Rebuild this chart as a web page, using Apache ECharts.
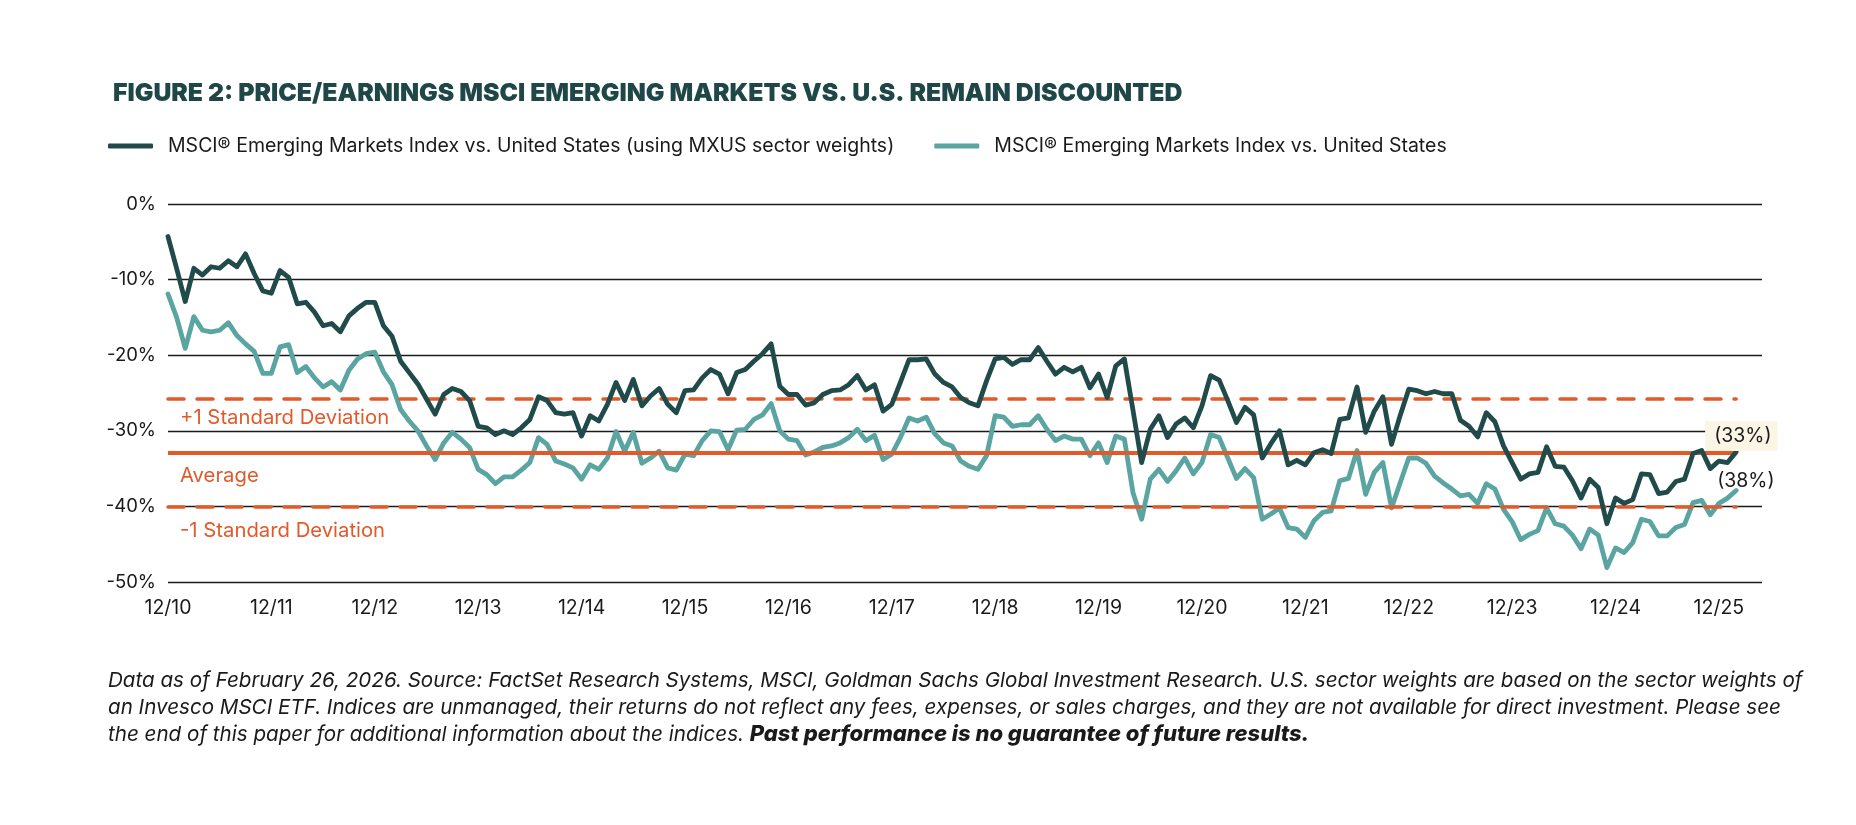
<!DOCTYPE html>
<html lang="en">
<head>
<meta charset="UTF-8">
<title>Figure 2</title>
<script src="https://cdn.jsdelivr.net/npm/echarts@6/dist/echarts.min.js"></script>
<style>
  html, body { margin: 0; padding: 0; background: #fff; }
  #main { width: 1856px; height: 825px; }
</style>
</head>
<body>
<div id="main"></div>
<script>
// monthly P/E discount, Dec 2010 .. Feb 2026 (one row = one year from Dec)
var emMxusWeights = [
  -4.3, -8.5, -12.9, -8.5, -9.4, -8.3, -8.5, -7.5, -8.3, -6.6, -9.2, -11.5,
  -11.8, -8.8, -9.7, -13.2, -13.0, -14.3, -16.1, -15.8, -16.9, -14.8, -13.8, -13.0,
  -13.0, -16.1, -17.5, -20.8, -22.3, -23.8, -25.8, -27.8, -25.2, -24.4, -24.8, -26.0,
  -29.4, -29.6, -30.5, -30.0, -30.5, -29.6, -28.5, -25.5, -26.0, -27.6, -27.8, -27.6,
  -30.7, -28.0, -28.7, -26.5, -23.6, -26.0, -23.2, -26.7, -25.4, -24.4, -26.5, -27.6,
  -24.7, -24.6, -23.0, -21.9, -22.5, -25.1, -22.3, -21.9, -20.8, -19.8, -18.5, -24.1,
  -25.2, -25.2, -26.6, -26.3, -25.2, -24.7, -24.6, -23.9, -22.7, -24.6, -23.9, -27.4,
  -26.5, -23.6, -20.6, -20.6, -20.5, -22.5, -23.6, -24.2, -25.6, -26.3, -26.7, -23.4,
  -20.5, -20.3, -21.2, -20.6, -20.6, -19.0, -20.8, -22.5, -21.6, -22.2, -21.6, -24.3,
  -22.5, -25.6, -21.4, -20.5, -27.3, -34.2, -29.8, -28.0, -30.9, -29.1, -28.3, -29.6,
  -26.7, -22.7, -23.3, -26.0, -28.9, -26.9, -27.9, -33.6, -31.7, -30.0, -34.5, -33.9,
  -34.5, -32.9, -32.5, -33.0, -28.5, -28.3, -24.2, -30.2, -27.4, -25.5, -31.8, -28.0,
  -24.5, -24.7, -25.1, -24.8, -25.1, -25.1, -28.6, -29.4, -30.8, -27.6, -28.8, -32.0,
  -34.2, -36.4, -35.7, -35.5, -32.1, -34.7, -34.8, -36.6, -38.9, -36.4, -37.5, -42.3,
  -38.9, -39.6, -39.1, -35.7, -35.8, -38.3, -38.1, -36.7, -36.4, -33.0, -32.6, -35.0,
  -34.0, -34.2, -32.8
];

var emVsUs = [
  -11.9, -15.0, -19.1, -14.9, -16.7, -16.9, -16.7, -15.7, -17.4, -18.5, -19.5, -22.4,
  -22.4, -18.9, -18.6, -22.3, -21.5, -23.0, -24.2, -23.5, -24.6, -22.0, -20.5, -19.8,
  -19.6, -22.2, -23.9, -27.2, -28.7, -30.0, -32.0, -33.8, -31.6, -30.2, -31.1, -32.2,
  -35.1, -35.8, -37.0, -36.1, -36.1, -35.2, -34.2, -30.9, -31.8, -34.0, -34.4, -34.9,
  -36.4, -34.5, -35.1, -33.6, -30.1, -32.7, -30.2, -34.3, -33.6, -32.7, -34.9, -35.2,
  -33.1, -33.3, -31.3, -30.0, -30.1, -32.5, -29.9, -29.8, -28.5, -27.9, -26.4, -30.0,
  -31.1, -31.3, -33.2, -32.8, -32.2, -32.0, -31.6, -30.9, -29.8, -31.3, -30.6, -33.8,
  -33.1, -30.9, -28.3, -28.7, -28.2, -30.4, -31.6, -32.0, -34.0, -34.7, -35.1, -33.3,
  -28.0, -28.2, -29.4, -29.2, -29.2, -28.0, -29.8, -31.3, -30.7, -31.1, -31.1, -33.3,
  -31.6, -34.2, -30.7, -31.1, -38.2, -41.7, -36.4, -35.1, -36.7, -35.3, -33.6, -35.7,
  -34.2, -30.5, -30.9, -33.6, -36.3, -35.0, -36.2, -41.7, -41.0, -40.2, -42.8, -43.0,
  -44.1, -41.9, -40.8, -40.6, -36.6, -36.3, -32.6, -38.4, -35.5, -34.2, -40.2, -36.9,
  -33.6, -33.6, -34.3, -36.0, -36.9, -37.7, -38.6, -38.4, -39.6, -37.0, -37.7, -40.4,
  -42.0, -44.4, -43.7, -43.2, -40.2, -42.3, -42.6, -43.8, -45.6, -43.0, -43.8, -48.1,
  -45.5, -46.1, -44.8, -41.7, -42.0, -43.9, -43.9, -42.8, -42.4, -39.5, -39.2, -41.1,
  -39.6, -38.9, -37.9
];

var seriesNames = [
  'MSCI\u00ae Emerging Markets Index vs. United States (using MXUS sector weights)',
  'MSCI\u00ae Emerging Markets Index vs. United States'
];

// reference levels
var bandNames = ['+1 Standard Deviation', 'Average', '-1 Standard Deviation'];
var bandValues = [-25.8, -32.9, -40.0];

var yTicks = { min: -50, max: 0, step: 10 };

// month labels Dec 2010 .. May 2026 (axis runs a little past the data)
var months = [];
for (var k = 0; k < 186; k++) {
  var m = (11 + k) % 12 + 1;
  var yr = 10 + Math.floor((11 + k) / 12);
  months.push((m < 10 ? '0' + m : '' + m) + '/' + yr);
}
var lastIdx = emMxusWeights.length - 1;

var DARK = '#214b4b';
var TEAL = '#5aa5a1';
var ORANGE = '#e2592a';
var FONT = 'Inter';

var chart = echarts.init(document.getElementById('main'));

var bandLabelGap = [9, 13, 14];
var bandData = bandValues.map(function (v, i) {
  var dashed = i !== 1;
  return [
    {
      coord: [months[0], v],
      name: bandNames[i],
      lineStyle: dashed
        ? { type: [16, 13], width: 3.5, cap: 'round', color: ORANGE }
        : { type: 'solid', width: 4, color: ORANGE },
      label: {
        show: true,
        formatter: bandNames[i],
        position: 'insideStartBottom',
        distance: [12, bandLabelGap[i]],
        color: ORANGE,
        fontFamily: FONT,
        fontSize: 20.3
      }
    },
    { coord: [months[lastIdx], v] }
  ];
});

var option = {
  backgroundColor: '#fff',
  animation: false,
  title: {
    text: 'FIGURE 2: PRICE/EARNINGS MSCI EMERGING MARKETS VS. U.S. REMAIN DISCOUNTED',
    left: 108,
    top: 76,
    textStyle: {
      fontFamily: FONT,
      fontWeight: 900,
      fontSize: 24.8,
      color: '#1f4747'
    }
  },
  legend: {
    left: 108,
    top: 136,
    padding: 0,
    itemWidth: 45,
    itemHeight: 5,
    itemGap: 40,
    icon: 'roundRect',
    data: seriesNames,
    textStyle: {
      fontFamily: FONT,
      fontSize: 19.5,
      color: '#1a1a1a',
      padding: [0, 0, 0, 10]
    }
  },
  grid: {
    left: 168,
    right: 94,
    top: 204,
    bottom: 243
  },
  xAxis: {
    type: 'category',
    data: months,
    boundaryGap: false,
    axisLine: { show: false },
    axisTick: { show: false },
    splitLine: { show: false },
    axisLabel: {
      interval: function (idx, val) { return val.slice(0, 2) === '12'; },
      margin: 16,
      fontFamily: FONT,
      fontSize: 19.5,
      color: '#1a1a1a'
    }
  },
  yAxis: {
    type: 'value',
    min: yTicks.min,
    max: yTicks.max,
    interval: yTicks.step,
    axisLine: { show: false },
    axisTick: { show: false },
    axisLabel: {
      formatter: '{value}%',
      margin: 12,
      fontFamily: FONT,
      fontSize: 18.5,
      color: '#1a1a1a'
    },
    splitLine: { lineStyle: { color: '#1a1a1a', width: 1.3 } }
  },
  series: [
    {
      name: seriesNames[1],
      type: 'line',
      data: emVsUs,
      showSymbol: false,
      color: TEAL,
      lineStyle: { width: 4.8, color: TEAL, cap: 'round', join: 'round' },
      z: 3,
      endLabel: {
        show: true,
        formatter: function (p) { return '(' + Math.round(-p.value) + '%)'; },
        offset: [-27, -9.5],
        fontFamily: FONT,
        fontSize: 19.5,
        color: '#1a1a1a'
      },
      markLine: {
        silent: true,
        symbol: ['none', 'none'],
        z: 4,
        data: bandData
      }
    },
    {
      name: seriesNames[0],
      type: 'line',
      data: emMxusWeights,
      showSymbol: false,
      color: DARK,
      lineStyle: { width: 4.8, color: DARK, cap: 'round', join: 'round' },
      z: 5,
      endLabel: {
        show: true,
        formatter: function (p) { return '(' + Math.round(-p.value) + '%)'; },
        offset: [-39, -16],
        backgroundColor: '#fbf5e6',
        padding: [5, 6, 5, 9],
        fontFamily: FONT,
        fontSize: 19.5,
        color: '#1a1a1a'
      }
    }
  ],
  graphic: [
    {
      type: 'text',
      left: 108,
      top: 667,
      style: {
        text: 'Data as of February 26, 2026. Source: FactSet Research Systems, MSCI, Goldman Sachs Global Investment Research. U.S. sector weights are based on the sector weights of\n' +
          'an Invesco MSCI ETF. Indices are unmanaged, their returns do not reflect any fees, expenses, or sales charges, and they are not available for direct investment. Please see\n' +
          'the end of this paper for additional information about the indices. {b|Past performance is no guarantee of future results.}',
        fontFamily: FONT,
        fontStyle: 'italic',
        fontSize: 20.6,
        lineHeight: 27,
        fill: '#1a1a1a',
        rich: {
          b: {
            fontFamily: FONT,
            fontStyle: 'italic',
            fontWeight: 800,
            fontSize: 22,
            lineHeight: 27,
            fill: '#1a1a1a'
          }
        }
      }
    }
  ]
};

chart.setOption(option);
</script>
</body>
</html>
